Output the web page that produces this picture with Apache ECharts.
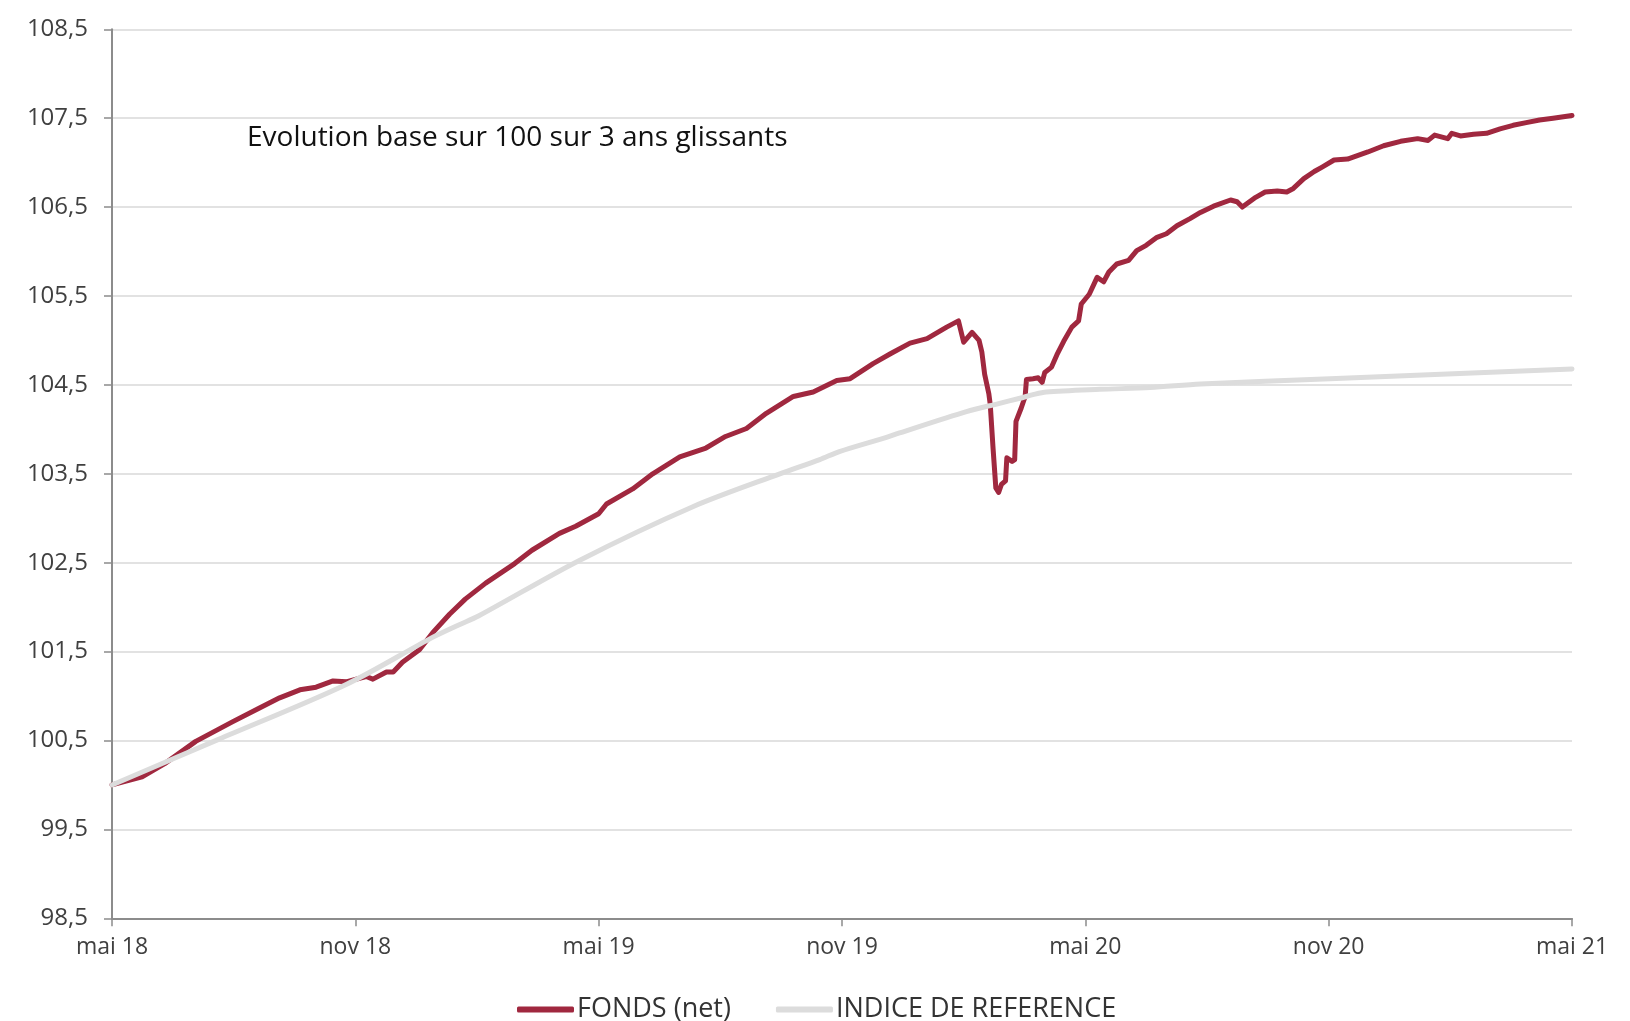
<!DOCTYPE html>
<html>
<head>
<meta charset="utf-8">
<script src="https://cdn.jsdelivr.net/npm/echarts@6/dist/echarts.min.js"></script>
<style>
  html, body { margin: 0; padding: 0; background: #ffffff; }
  #chart { width: 1630px; height: 1021px; }
</style>
</head>
<body>
<div id="chart"></div>
<script>
// ---------------- DATA ----------------
const seriesNames = ['FONDS (net)', 'INDICE DE REFERENCE'];
const xTickLabels = ['mai 18', 'nov 18', 'mai 19', 'nov 19', 'mai 20', 'nov 20', 'mai 21'];
const yTickValues = [98.5, 99.5, 100.5, 101.5, 102.5, 103.5, 104.5, 105.5, 106.5, 107.5, 108.5];
const annotationText = 'Evolution base sur 100 sur 3 ans glissants';

const fundDates = [
  '2018-05-01','2018-05-24','2018-06-10','2018-07-03','2018-07-31','2018-08-20','2018-09-05','2018-09-20',
  '2018-10-02','2018-10-15','2018-10-25','2018-11-09','2018-11-14','2018-11-24','2018-11-29','2018-12-06',
  '2018-12-19','2018-12-29','2019-01-11','2019-01-23','2019-02-07','2019-02-27','2019-03-12','2019-04-02',
  '2019-04-14','2019-05-01','2019-05-07','2019-05-27','2019-06-11','2019-07-01','2019-07-21','2019-08-05',
  '2019-08-21','2019-09-05','2019-09-25','2019-10-10','2019-10-28','2019-11-07','2019-11-24','2019-12-07',
  '2019-12-22','2020-01-04','2020-01-19','2020-01-28','2020-02-01','2020-02-07','2020-02-12','2020-02-14',
  '2020-02-16','2020-02-19','2020-02-20','2020-02-22','2020-02-24','2020-02-26','2020-02-28','2020-03-02',
  '2020-03-03','2020-03-07','2020-03-09','2020-03-10','2020-03-14','2020-03-17','2020-03-18','2020-03-23',
  '2020-03-27','2020-03-30','2020-04-01','2020-04-06','2020-04-10','2020-04-15','2020-04-21','2020-04-26',
  '2020-04-28','2020-05-04','2020-05-10','2020-05-15','2020-05-19','2020-05-25','2020-06-03','2020-06-09',
  '2020-06-16','2020-06-24','2020-07-01','2020-07-09','2020-07-19','2020-07-27','2020-08-06','2020-08-19',
  '2020-08-24','2020-08-28','2020-09-07','2020-09-14','2020-09-23','2020-09-30','2020-10-05','2020-10-13',
  '2020-10-21','2020-10-27','2020-11-05','2020-11-15','2020-11-30','2020-12-12','2020-12-25','2021-01-07',
  '2021-01-15','2021-01-20','2021-01-30','2021-02-02','2021-02-08','2021-02-17','2021-02-26','2021-03-08',
  '2021-03-18','2021-03-28','2021-04-07','2021-04-17','2021-05-01'
];
const fundValues = [
  100.00,100.09,100.24,100.49,100.71,100.86,100.98,101.07,
  101.10,101.17,101.16,101.22,101.19,101.27,101.27,101.38,
  101.52,101.71,101.92,102.09,102.27,102.49,102.64,102.83,
  102.91,103.05,103.16,103.33,103.50,103.69,103.79,103.92,
  104.01,104.18,104.37,104.42,104.55,104.57,104.74,104.85,
  104.97,105.02,105.15,105.22,104.98,105.09,105.00,104.87,
  104.62,104.40,104.28,103.79,103.34,103.29,103.38,103.42,
  103.68,103.64,103.66,104.09,104.24,104.37,104.56,104.57,
  104.58,104.53,104.64,104.70,104.84,104.99,105.15,105.22,
  105.41,105.52,105.71,105.66,105.77,105.86,105.90,106.01,
  106.07,106.16,106.20,106.29,106.37,106.44,106.51,106.58,
  106.56,106.50,106.61,106.67,106.68,106.67,106.71,106.82,
  106.90,106.95,107.03,107.04,107.12,107.19,107.24,107.27,
  107.25,107.31,107.27,107.33,107.30,107.32,107.33,107.38,
  107.42,107.45,107.48,107.50,107.53
];

const indexDates = [
  '2018-05-01','2018-07-20','2018-10-25','2018-12-29','2019-01-18','2019-02-02','2019-04-16','2019-07-11',
  '2019-09-15','2019-10-15','2019-10-30','2019-12-04','2019-12-14','2020-02-03','2020-02-26','2020-03-13',
  '2020-03-23','2020-04-02','2020-05-12','2020-06-19','2020-07-27','2020-11-02','2021-05-01'
];
const indexValues = [
  100.00,100.51,101.13,101.66,101.80,101.90,102.52,103.13,
  103.50,103.66,103.75,103.91,103.96,104.20,104.29,104.35,
  104.39,104.42,104.45,104.47,104.51,104.57,104.68
];

// ---------------- HELPERS ----------------
// months elapsed since 2018-05-01 (x axis unit: month)
function monthOffset(s) {
  const p = s.split('-').map(Number);
  const dim = new Date(p[0], p[1], 0).getDate();
  return (p[0] - 2018) * 12 + (p[1] - 5) + (p[2] - 1) / dim;
}
function pairs(dates, vals) {
  return dates.map((d, i) => [monthOffset(d), vals[i]]);
}
function fmtComma(v) {
  return v.toFixed(1).replace('.', ',');
}

const FONT = '"Open Sans", "Noto Sans", sans-serif';
const AXIS_COLOR = '#8c8c8c';
const FUND_COLOR = '#a0283f';
const INDEX_COLOR = '#dcdcdc';

const chart = echarts.init(document.getElementById('chart'), null, { renderer: 'canvas' });

const option = {
  animation: false,
  backgroundColor: '#ffffff',
  textStyle: { fontFamily: FONT },
  grid: { left: 112, right: 58, top: 29.3, bottom: 102.7, containLabel: false },
  graphic: [{
    type: 'text',
    x: 247,
    y: 138,
    style: {
      text: annotationText,
      font: '28px ' + FONT,
      fill: '#111111',
      verticalAlign: 'middle',
      textVerticalAlign: 'middle'
    }
  }],
  legend: {
    data: seriesNames,
    left: 512,
    top: 991,
    icon: 'roundRect',
    itemWidth: 57,
    itemHeight: 6,
    itemGap: 45,
    textStyle: { fontFamily: FONT, fontSize: 27, color: '#333333', padding: [0, 0, 0, -2] }
  },
  xAxis: {
    type: 'value',
    min: 0,
    max: 36,
    interval: 6,
    axisLine: { show: true, lineStyle: { color: AXIS_COLOR, width: 2 } },
    axisTick: { show: true, length: 8, lineStyle: { color: AXIS_COLOR, width: 1.5 } },
    splitLine: { show: false },
    axisLabel: {
      margin: 18,
      fontFamily: FONT,
      fontSize: 23,
      color: '#404040',
      formatter: function (v) { return xTickLabels[Math.round(v / 6)] || ''; }
    }
  },
  yAxis: {
    type: 'value',
    min: yTickValues[0],
    max: yTickValues[yTickValues.length - 1],
    interval: 1,
    axisLine: { show: true, lineStyle: { color: AXIS_COLOR, width: 2 } },
    axisTick: { show: true, length: 8, customValues: yTickValues, lineStyle: { color: AXIS_COLOR, width: 1.5 } },
    splitLine: { show: true, lineStyle: { color: '#d9d9d9', width: 1.5 } },
    axisLabel: {
      margin: 24,
      fontFamily: FONT,
      fontSize: 24,
      color: '#404040',
      customValues: yTickValues,
      formatter: fmtComma
    }
  },
  series: [
    {
      name: seriesNames[0],
      type: 'line',
      data: pairs(fundDates, fundValues),
      symbol: 'none',
      color: FUND_COLOR,
      lineStyle: { color: FUND_COLOR, width: 5, cap: 'round', join: 'round' },
      z: 2
    },
    {
      name: seriesNames[1],
      type: 'line',
      data: pairs(indexDates, indexValues),
      symbol: 'none',
      smooth: 0.3,
      color: INDEX_COLOR,
      lineStyle: { color: INDEX_COLOR, width: 5, cap: 'round', join: 'round' },
      z: 3
    }
  ]
};

chart.setOption(option);
</script>
</body>
</html>
